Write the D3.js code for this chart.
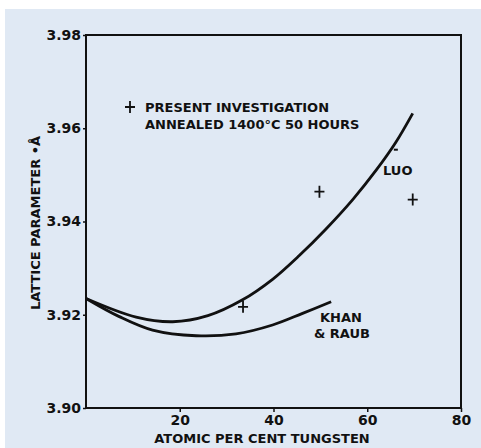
<!DOCTYPE html>
<html>
<head>
<meta charset="utf-8">
<script src="https://cdn.jsdelivr.net/npm/d3@7"></script>
<style>
  body { margin: 0; background: #fff; }
  svg text { font-family: "DejaVu Sans", sans-serif; font-weight: bold; fill: #111; }
</style>
</head>
<body>
<svg id="chart" width="481" height="448"></svg>
<script>
// x ticks and y ticks as printed
var xTicks = [20, 40, 60, 80];
var yTicks = [3.90, 3.92, 3.94, 3.96, 3.98];

// present investigation (+ marks)
var presentX = [33.5, 49.8, 69.7];
var presentY = [3.9217, 3.9464, 3.9447];

// Luo data point (short dash)
var luoX = [66.1];
var luoY = [3.9554];

// Luo curve
var luoCurveX = [0, 10.7, 18.5, 26, 33.4, 39.8, 45.5, 51.2, 56.9, 61.9, 66.1, 69.7];
var luoCurveY = [3.9235, 3.9195, 3.9185, 3.9198, 3.9232, 3.9276, 3.9327, 3.9384, 3.9447, 3.9510, 3.9570, 3.9632];

// Khan & Raub curve
var khanCurveX = [0, 7.1, 14.2, 23.5, 32, 39.8, 46.2, 52.3];
var khanCurveY = [3.9235, 3.9196, 3.9167, 3.9155, 3.9159, 3.9178, 3.9203, 3.9228];

var margin = {top: 35, right: 20, bottom: 40, left: 86},
  width = 461 - margin.left,
  height = 408 - margin.top,
  svg = d3.select('#chart'),
  x = d3.scaleLinear().domain([0, 80]).range([0, width]),
  y = d3.scaleLinear().domain([3.90, 3.98]).range([height, 0]),
  g;

svg.append('rect')
  .attr('x', 5).attr('y', 9)
  .attr('width', 476).attr('height', 439)
  .attr('fill', '#e0e9f4');

g = svg.append('g')
  .attr('transform', 'translate(' + margin.left + ',' + margin.top + ')');

// frame
g.append('rect')
  .attr('width', width).attr('height', height)
  .attr('fill', 'none').attr('stroke', '#111').attr('stroke-width', 2);

g.append('g')
  .attr('transform', 'translate(0,' + height + ')')
  .call(d3.axisBottom(x).tickValues(xTicks).tickSize(4).tickPadding(3).tickFormat(d3.format('d')))
  .call(function (a) {
    a.select('.domain').remove();
    a.selectAll('line').attr('stroke', '#111').attr('stroke-width', 1.5);
    a.selectAll('text').attr('font-size', 14).attr('fill', '#111');
  });

g.append('g')
  .call(d3.axisLeft(y).tickValues(yTicks).tickSize(3).tickPadding(2).tickFormat(d3.format('.2f')))
  .call(function (a) {
    a.select('.domain').remove();
    a.selectAll('line').attr('stroke', '#111').attr('stroke-width', 1.5);
    a.selectAll('text').attr('font-size', 14).attr('fill', '#111');
  });

var line = d3.line()
  .x(function (d) { return x(d[0]); })
  .y(function (d) { return y(d[1]); })
  .curve(d3.curveCatmullRom);

g.append('path')
  .datum(d3.zip(luoCurveX, luoCurveY))
  .attr('d', line)
  .attr('fill', 'none').attr('stroke', '#111').attr('stroke-width', 2.8);

g.append('path')
  .datum(d3.zip(khanCurveX, khanCurveY))
  .attr('d', line)
  .attr('fill', 'none').attr('stroke', '#111').attr('stroke-width', 2.8);

function plus(sel, px, py) {
  sel.append('path')
    .attr('d', 'M' + (px - 5) + ',' + py + 'H' + (px + 5) + 'M' + px + ',' + (py - 6) + 'V' + (py + 6))
    .attr('stroke', '#111').attr('stroke-width', 1.8);
}

d3.zip(presentX, presentY).forEach(function (d) {
  plus(g, x(d[0]), y(d[1]));
});

d3.zip(luoX, luoY).forEach(function (d) {
  g.append('line')
    .attr('x1', x(d[0]) - 2).attr('x2', x(d[0]) + 2)
    .attr('y1', y(d[1])).attr('y2', y(d[1]))
    .attr('stroke', '#111').attr('stroke-width', 2);
});

// legend
plus(svg, 130, 107);
svg.append('text').attr('x', 145).attr('y', 112).attr('font-size', 13).text('PRESENT  INVESTIGATION');
svg.append('text').attr('x', 145).attr('y', 129).attr('font-size', 13).text('ANNEALED 1400°C 50 HOURS');

// curve labels
svg.append('text').attr('x', 383).attr('y', 175).attr('font-size', 13).text('LUO');
svg.append('text').attr('x', 320).attr('y', 322).attr('font-size', 13).text('KHAN');
svg.append('text').attr('x', 314).attr('y', 338).attr('font-size', 13).text('&  RAUB');

// axis titles
svg.append('text').attr('x', 262).attr('y', 443).attr('text-anchor', 'middle')
  .attr('font-size', 13).text('ATOMIC PER CENT TUNGSTEN');
svg.append('text')
  .attr('transform', 'translate(40,223) rotate(-90)')
  .attr('text-anchor', 'middle').attr('font-size', 13)
  .text('LATTICE  PARAMETER  \u2022Å');
</script>
</body>
</html>
